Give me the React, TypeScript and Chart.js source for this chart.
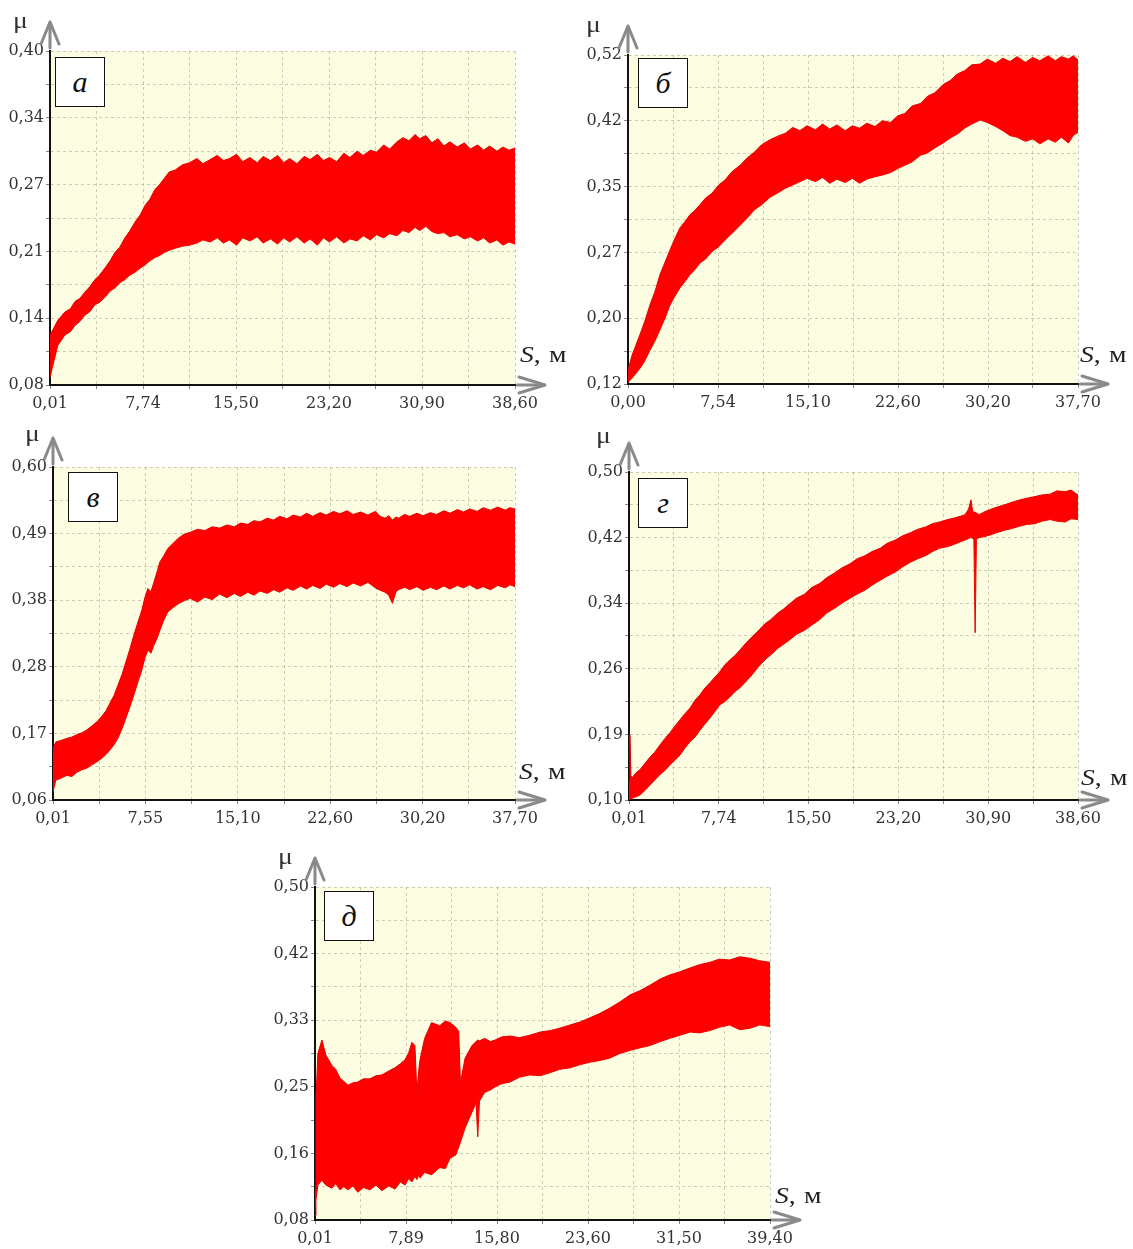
import React, { useEffect, useRef } from 'react';
import { Chart, registerables } from 'chart.js';

Chart.register(...registerables);

// ---------- Panel а ----------
const xLabelsA = ['0,01', '7,74', '15,50', '23,20', '30,90', '38,60'];
const yLabelsA = ['0,08', '0,14', '0,21', '0,27', '0,34', '0,40'];
const sA = [0.01, 0.25, 0.66, 1.25, 1.7, 2.08, 2.5, 2.9, 3.3, 3.74, 4.1, 4.57, 5.0, 5.4, 5.8, 6.23, 6.6, 7.06, 7.5, 7.9, 8.3, 8.7, 9.1, 9.5, 9.9, 10.4, 11.0, 11.6, 12.2, 12.7, 13.3, 13.9, 14.4, 14.9, 15.5, 16.0, 16.6, 17.2, 17.7, 18.3, 18.9, 19.4, 19.9, 20.5, 21.1, 21.6, 22.2, 22.7, 23.2, 23.8, 24.4, 24.9, 25.5, 26.0, 26.6, 27.1, 27.7, 28.2, 28.8, 29.3, 29.8, 30.3, 30.7, 31.2, 31.7, 32.2, 32.7, 33.2, 33.8, 34.4, 34.9, 35.5, 36.0, 36.5, 37.1, 37.6, 38.1, 38.6];
const upA = [0.128, 0.133, 0.142, 0.150, 0.153, 0.160, 0.163, 0.169, 0.174, 0.181, 0.185, 0.192, 0.199, 0.207, 0.212, 0.221, 0.227, 0.236, 0.243, 0.252, 0.258, 0.267, 0.272, 0.278, 0.284, 0.286, 0.291, 0.293, 0.297, 0.292, 0.296, 0.300, 0.295, 0.297, 0.301, 0.294, 0.298, 0.293, 0.299, 0.295, 0.300, 0.293, 0.297, 0.292, 0.299, 0.296, 0.301, 0.295, 0.298, 0.294, 0.302, 0.298, 0.304, 0.300, 0.305, 0.303, 0.310, 0.306, 0.313, 0.317, 0.314, 0.320, 0.316, 0.319, 0.312, 0.316, 0.309, 0.313, 0.308, 0.312, 0.306, 0.310, 0.305, 0.309, 0.304, 0.308, 0.305, 0.307];
const loA = [0.087, 0.099, 0.118, 0.128, 0.131, 0.137, 0.141, 0.147, 0.150, 0.157, 0.159, 0.164, 0.170, 0.173, 0.178, 0.181, 0.185, 0.188, 0.192, 0.195, 0.199, 0.202, 0.204, 0.207, 0.209, 0.211, 0.213, 0.214, 0.216, 0.219, 0.217, 0.221, 0.216, 0.219, 0.214, 0.221, 0.218, 0.222, 0.216, 0.220, 0.215, 0.221, 0.217, 0.222, 0.216, 0.220, 0.214, 0.221, 0.217, 0.222, 0.216, 0.220, 0.218, 0.223, 0.219, 0.224, 0.221, 0.225, 0.223, 0.228, 0.226, 0.231, 0.228, 0.232, 0.227, 0.225, 0.226, 0.222, 0.224, 0.220, 0.222, 0.218, 0.221, 0.216, 0.219, 0.214, 0.217, 0.215];

// ---------- Panel б ----------
const xLabelsB = ['0,00', '7,54', '15,10', '22,60', '30,20', '37,70'];
const yLabelsB = ['0,12', '0,20', '0,27', '0,35', '0,42', '0,52'];
const sB = [0, 0.34, 1.0, 1.4, 1.84, 2.25, 2.68, 3.1, 3.52, 3.9, 4.36, 4.8, 5.2, 5.6, 6.03, 6.5, 7.04, 7.6, 8.13, 8.7, 9.4, 10.0, 10.6, 11.2, 11.9, 12.5, 13.2, 13.8, 14.4, 15.0, 15.7, 16.3, 16.9, 17.5, 18.2, 18.8, 19.4, 20.0, 20.7, 21.3, 22.0, 22.6, 23.2, 23.8, 24.5, 25.1, 25.7, 26.4, 27.0, 27.6, 28.2, 28.8, 29.5, 30.1, 30.8, 31.4, 32.0, 32.6, 33.3, 33.9, 34.5, 35.2, 35.8, 36.3, 36.9, 37.3, 37.7];
const upB = [0.137, 0.155, 0.180, 0.196, 0.216, 0.232, 0.253, 0.268, 0.283, 0.296, 0.310, 0.318, 0.326, 0.331, 0.338, 0.346, 0.352, 0.362, 0.368, 0.378, 0.386, 0.395, 0.402, 0.411, 0.417, 0.421, 0.425, 0.432, 0.428, 0.434, 0.429, 0.436, 0.430, 0.435, 0.428, 0.434, 0.431, 0.437, 0.433, 0.440, 0.438, 0.446, 0.449, 0.458, 0.461, 0.470, 0.474, 0.484, 0.489, 0.497, 0.501, 0.508, 0.509, 0.515, 0.510, 0.516, 0.512, 0.518, 0.511, 0.517, 0.513, 0.519, 0.513, 0.518, 0.515, 0.519, 0.514];
const loB = [0.122, 0.127, 0.139, 0.148, 0.161, 0.172, 0.186, 0.200, 0.216, 0.226, 0.237, 0.245, 0.253, 0.259, 0.267, 0.272, 0.281, 0.287, 0.295, 0.303, 0.313, 0.322, 0.332, 0.338, 0.347, 0.352, 0.358, 0.362, 0.366, 0.370, 0.366, 0.371, 0.364, 0.369, 0.365, 0.370, 0.364, 0.369, 0.372, 0.374, 0.377, 0.382, 0.386, 0.390, 0.398, 0.401, 0.407, 0.413, 0.419, 0.424, 0.431, 0.436, 0.441, 0.438, 0.433, 0.428, 0.422, 0.420, 0.415, 0.418, 0.412, 0.418, 0.414, 0.420, 0.413, 0.422, 0.426];

// ---------- Panel в ----------
const xLabelsV = ['0,01', '7,55', '15,10', '22,60', '30,20', '37,70'];
const yLabelsV = ['0,06', '0,17', '0,28', '0,38', '0,49', '0,60'];
const sV = [0.01, 0.24, 0.73, 1.15, 1.55, 1.95, 2.37, 2.8, 3.18, 3.6, 4.0, 4.35, 4.65, 5.0, 5.3, 5.65, 5.96, 6.3, 6.6, 6.95, 7.26, 7.5, 7.75, 8.0, 8.24, 8.5, 8.73, 9.05, 9.38, 9.8, 10.2, 10.7, 11.2, 11.8, 12.4, 13.0, 13.6, 14.2, 14.8, 15.3, 15.9, 16.4, 16.9, 17.5, 18.0, 18.5, 19.1, 19.6, 20.2, 20.7, 21.2, 21.8, 22.3, 22.9, 23.4, 24.0, 24.5, 25.1, 25.7, 26.3, 26.7, 27.1, 27.4, 27.7, 28.0, 28.2, 28.7, 29.1, 29.7, 30.2, 30.8, 31.3, 31.9, 32.4, 33.0, 33.5, 34.0, 34.6, 35.1, 35.7, 36.3, 36.9, 37.3, 37.7];
const upV = [0.144, 0.154, 0.157, 0.160, 0.162, 0.166, 0.169, 0.174, 0.180, 0.187, 0.196, 0.205, 0.217, 0.230, 0.246, 0.264, 0.284, 0.306, 0.327, 0.349, 0.368, 0.388, 0.403, 0.398, 0.413, 0.430, 0.446, 0.456, 0.468, 0.476, 0.484, 0.491, 0.494, 0.499, 0.497, 0.503, 0.501, 0.506, 0.503, 0.509, 0.507, 0.513, 0.511, 0.517, 0.514, 0.520, 0.516, 0.522, 0.519, 0.525, 0.520, 0.526, 0.522, 0.528, 0.524, 0.529, 0.523, 0.527, 0.522, 0.528, 0.520, 0.517, 0.521, 0.514, 0.519, 0.517, 0.523, 0.520, 0.525, 0.521, 0.526, 0.523, 0.529, 0.525, 0.531, 0.527, 0.532, 0.528, 0.534, 0.530, 0.535, 0.530, 0.534, 0.532];
const loV = [0.073, 0.092, 0.096, 0.100, 0.098, 0.105, 0.109, 0.112, 0.117, 0.122, 0.128, 0.134, 0.141, 0.150, 0.160, 0.176, 0.193, 0.212, 0.230, 0.252, 0.271, 0.290, 0.303, 0.298, 0.311, 0.322, 0.335, 0.352, 0.365, 0.372, 0.378, 0.383, 0.387, 0.381, 0.389, 0.385, 0.394, 0.388, 0.395, 0.390, 0.397, 0.392, 0.399, 0.395, 0.401, 0.397, 0.404, 0.400, 0.407, 0.402, 0.408, 0.403, 0.410, 0.405, 0.411, 0.406, 0.412, 0.407, 0.413, 0.404, 0.400, 0.397, 0.392, 0.379, 0.398, 0.401, 0.405, 0.401, 0.406, 0.400, 0.405, 0.401, 0.407, 0.402, 0.408, 0.404, 0.409, 0.402, 0.406, 0.401, 0.408, 0.404, 0.409, 0.406];

// ---------- Panel г ----------
const xLabelsG = ['0,01', '7,74', '15,50', '23,20', '30,90', '38,60'];
const yLabelsG = ['0,10', '0,19', '0,26', '0,34', '0,42', '0,50'];
const sG = [0.01, 0.09, 0.17, 0.26, 0.6, 0.95, 1.4, 1.8, 2.2, 2.67, 3.1, 3.53, 4.0, 4.4, 4.8, 5.25, 5.7, 6.1, 6.5, 6.97, 7.4, 7.8, 8.25, 8.7, 9.1, 9.55, 10.1, 10.6, 11.1, 11.7, 12.2, 12.8, 13.3, 13.8, 14.4, 15.1, 15.7, 16.4, 17.0, 17.7, 18.3, 19.0, 19.6, 20.3, 20.9, 21.6, 22.2, 22.9, 23.5, 24.2, 24.8, 25.5, 26.1, 26.7, 27.4, 28.0, 28.5, 28.9, 29.2, 29.4, 29.55, 29.65, 29.76, 29.87, 30.1, 30.5, 31.0, 31.6, 32.3, 32.9, 33.6, 34.2, 34.9, 35.5, 36.2, 36.8, 37.5, 38.0, 38.6];
const upG = [0.124, 0.179, 0.130, 0.127, 0.133, 0.137, 0.145, 0.152, 0.158, 0.167, 0.175, 0.182, 0.191, 0.198, 0.205, 0.212, 0.222, 0.228, 0.236, 0.243, 0.250, 0.256, 0.265, 0.271, 0.276, 0.283, 0.292, 0.299, 0.306, 0.315, 0.320, 0.328, 0.333, 0.339, 0.346, 0.351, 0.359, 0.364, 0.371, 0.377, 0.383, 0.388, 0.394, 0.398, 0.403, 0.407, 0.413, 0.417, 0.422, 0.426, 0.430, 0.433, 0.437, 0.439, 0.442, 0.444, 0.446, 0.448, 0.455, 0.466, 0.452, 0.451, 0.451, 0.450, 0.448, 0.451, 0.454, 0.457, 0.460, 0.463, 0.466, 0.468, 0.470, 0.472, 0.473, 0.477, 0.476, 0.478, 0.472];
const loG = [0.100, 0.102, 0.101, 0.102, 0.104, 0.106, 0.112, 0.118, 0.124, 0.131, 0.136, 0.143, 0.149, 0.155, 0.163, 0.171, 0.177, 0.185, 0.192, 0.200, 0.208, 0.216, 0.220, 0.226, 0.232, 0.237, 0.245, 0.253, 0.262, 0.271, 0.277, 0.285, 0.290, 0.295, 0.302, 0.307, 0.313, 0.320, 0.328, 0.334, 0.340, 0.346, 0.351, 0.356, 0.362, 0.368, 0.373, 0.378, 0.384, 0.390, 0.394, 0.398, 0.403, 0.407, 0.409, 0.412, 0.415, 0.417, 0.419, 0.420, 0.419, 0.418, 0.304, 0.418, 0.420, 0.421, 0.423, 0.426, 0.429, 0.431, 0.434, 0.436, 0.437, 0.440, 0.442, 0.440, 0.439, 0.443, 0.442];

// ---------- Panel д ----------
const xLabelsD = ['0,01', '7,89', '15,80', '23,60', '31,50', '39,40'];
const yLabelsD = ['0,08', '0,16', '0,25', '0,33', '0,42', '0,50'];
const sD = [0.01, 0.09, 0.26, 0.61, 0.95, 1.47, 1.8, 2.17, 2.5, 2.86, 3.3, 3.72, 4.2, 4.76, 5.3, 5.8, 6.4, 6.93, 7.4, 7.8, 8.1, 8.4, 8.66, 8.83, 9.0, 9.1, 9.5, 10.1, 10.8, 11.3, 11.7, 12.2, 12.45, 12.6, 13.0, 13.6, 13.95, 14.1, 14.25, 14.7, 15.2, 15.6, 16.2, 16.9, 17.7, 18.6, 19.5, 20.4, 21.2, 22.1, 23.0, 23.8, 24.6, 25.5, 26.4, 27.3, 28.1, 29.0, 29.9, 30.7, 31.6, 32.5, 33.3, 34.2, 35.0, 35.9, 36.8, 37.7, 38.5, 39.4];
const upD = [0.118, 0.231, 0.290, 0.307, 0.288, 0.275, 0.270, 0.259, 0.255, 0.250, 0.253, 0.254, 0.258, 0.258, 0.262, 0.263, 0.268, 0.272, 0.277, 0.282, 0.290, 0.304, 0.300, 0.241, 0.270, 0.282, 0.309, 0.329, 0.325, 0.331, 0.329, 0.323, 0.318, 0.253, 0.284, 0.300, 0.305, 0.307, 0.306, 0.309, 0.305, 0.307, 0.311, 0.312, 0.310, 0.313, 0.317, 0.319, 0.322, 0.326, 0.330, 0.335, 0.340, 0.347, 0.355, 0.364, 0.369, 0.376, 0.384, 0.389, 0.393, 0.398, 0.402, 0.405, 0.409, 0.408, 0.412, 0.410, 0.407, 0.405];
const loD = [0.086, 0.105, 0.124, 0.130, 0.124, 0.120, 0.126, 0.118, 0.122, 0.118, 0.123, 0.115, 0.121, 0.118, 0.124, 0.117, 0.123, 0.119, 0.128, 0.124, 0.132, 0.128, 0.135, 0.131, 0.137, 0.133, 0.140, 0.137, 0.146, 0.145, 0.158, 0.162, 0.172, 0.178, 0.196, 0.216, 0.228, 0.185, 0.230, 0.241, 0.244, 0.248, 0.252, 0.254, 0.260, 0.263, 0.262, 0.266, 0.270, 0.272, 0.276, 0.279, 0.281, 0.284, 0.290, 0.294, 0.297, 0.300, 0.305, 0.309, 0.313, 0.317, 0.316, 0.319, 0.323, 0.326, 0.320, 0.322, 0.326, 0.324];

type Layout = {
  left: number; top: number; w: number; h: number;
  yW: number; xH: number; padTop: number; padRight: number;
  letter: [number, number]; mu: [number, number]; s: [number, number];
};

type PanelDef = {
  letter: string;
  xs: number[]; up: number[]; lo: number[];
  xLabels: string[]; yLabels: string[];
  lay: Layout;
};

const panels: PanelDef[] = [
  { letter: 'а', xs: sA, up: upA, lo: loA, xLabels: xLabelsA, yLabels: yLabelsA,
    lay: { left: 0, top: 0, w: 580, h: 420, yW: 50, xH: 35, padTop: 51, padRight: 65, letter: [55, 57], mu: [13, 9], s: [520, 343] } },
  { letter: 'б', xs: sB, up: upB, lo: loB, xLabels: xLabelsB, yLabels: yLabelsB,
    lay: { left: 575, top: 0, w: 558, h: 420, yW: 53, xH: 36, padTop: 55, padRight: 55, letter: [638, 58], mu: [586, 13], s: [1080, 343] } },
  { letter: 'в', xs: sV, up: upV, lo: loV, xLabels: xLabelsV, yLabels: yLabelsV,
    lay: { left: 0, top: 420, w: 580, h: 420, yW: 53, xH: 40, padTop: 47, padRight: 65, letter: [68, 472], mu: [25, 422], s: [519, 760] } },
  { letter: 'г', xs: sG, up: upG, lo: loG, xLabels: xLabelsG, yLabels: yLabelsG,
    lay: { left: 575, top: 420, w: 558, h: 420, yW: 54, xH: 40, padTop: 52, padRight: 55, letter: [638, 478], mu: [596, 424], s: [1081, 766] } },
  { letter: 'д', xs: sD, up: upD, lo: loD, xLabels: xLabelsD, yLabels: yLabelsD,
    lay: { left: 255, top: 840, w: 560, h: 409, yW: 60, xH: 29, padTop: 47, padRight: 45, letter: [324, 891], mu: [278, 845], s: [775, 1184] } },
];

const num = (s: string) => parseFloat(s.replace(',', '.'));

const decor = {
  id: 'decor',
  beforeDraw(chart: any) {
    const { ctx, chartArea: a } = chart;
    ctx.save();
    ctx.fillStyle = '#fdfde1';
    ctx.fillRect(a.left, a.top, a.right - a.left, a.bottom - a.top);
    ctx.restore();
  },
  afterDraw(chart: any) {
    const { ctx, chartArea: a } = chart;
    ctx.save();
    ctx.strokeStyle = '#8a8a8a';
    ctx.lineWidth = 3;
    ctx.lineCap = 'round';
    ctx.lineJoin = 'round';
    ctx.beginPath();
    ctx.moveTo(a.left, a.top - 3);
    ctx.lineTo(a.left, a.top - 28);
    ctx.stroke();
    ctx.beginPath();
    ctx.moveTo(a.left - 9, a.top - 7);
    ctx.lineTo(a.left, a.top - 29);
    ctx.lineTo(a.left + 9, a.top - 7);
    ctx.stroke();
    ctx.beginPath();
    ctx.moveTo(a.right + 2, a.bottom);
    ctx.lineTo(a.right + 29, a.bottom);
    ctx.stroke();
    ctx.beginPath();
    ctx.moveTo(a.right + 4, a.bottom - 8);
    ctx.lineTo(a.right + 30, a.bottom);
    ctx.lineTo(a.right + 4, a.bottom + 8);
    ctx.stroke();
    ctx.restore();
  },
};

const GRID = 'rgba(165,165,140,0.55)';
const TICK_FONT = 'DejaVu Serif';
const TEXT_FONT = 'Liberation Serif';

function Panel({ p }: { p: PanelDef }) {
  const ref = useRef<HTMLCanvasElement>(null);
  useEffect(() => {
    const xMin = num(p.xLabels[0]);
    const xMax = num(p.xLabels[p.xLabels.length - 1]);
    const yMin = num(p.yLabels[0]);
    const yMax = num(p.yLabels[p.yLabels.length - 1]);
    const n = Math.min(p.xs.length, p.up.length, p.lo.length);
    const upper = [] as { x: number; y: number }[];
    const lower = [] as { x: number; y: number }[];
    for (let i = 0; i < n; i++) {
      upper.push({ x: p.xs[i], y: p.up[i] });
      lower.push({ x: p.xs[i], y: p.lo[i] });
    }
    const L = p.lay;
    const chart = new Chart(ref.current as HTMLCanvasElement, {
      type: 'line',
      data: {
        datasets: [
          { data: upper, borderColor: '#e60000', backgroundColor: '#ff0000', borderWidth: 1, pointRadius: 0, fill: '+1', tension: 0 },
          { data: lower, borderColor: '#e60000', backgroundColor: '#ff0000', borderWidth: 1, pointRadius: 0, fill: false, tension: 0 },
        ],
      },
      options: {
        animation: false,
        responsive: false,
        maintainAspectRatio: false,
        devicePixelRatio: 1,
        layout: { padding: { top: L.padTop, right: L.padRight, left: 0, bottom: 0 } },
        plugins: { legend: { display: false }, tooltip: { enabled: false } },
        scales: {
          x: {
            type: 'linear',
            min: xMin,
            max: xMax,
            afterBuildTicks: (s: any) => {
              s.ticks = Array.from({ length: 11 }, (_, i) => ({ value: xMin + ((xMax - xMin) * i) / 10 }));
            },
            afterFit: (s: any) => { s.height = L.xH; },
            ticks: {
              autoSkip: false, maxRotation: 0, minRotation: 0, padding: 5, color: '#333',
              font: { family: TICK_FONT, size: 16 },
              callback: (_v: any, i: number) => (i % 2 === 0 ? p.xLabels[i / 2] : ''),
            },
            grid: { color: GRID, lineWidth: 1, tickLength: 4, tickColor: '#888' },
            border: { display: true, color: '#111', width: 2, dash: [3, 3] },
          },
          y: {
            type: 'linear',
            min: yMin,
            max: yMax,
            afterBuildTicks: (s: any) => {
              s.ticks = Array.from({ length: 11 }, (_, i) => ({ value: yMin + ((yMax - yMin) * i) / 10 }));
            },
            afterFit: (s: any) => { s.width = L.yW; },
            ticks: {
              autoSkip: false, padding: 2, color: '#333',
              font: { family: TICK_FONT, size: 16 },
              callback: (_v: any, i: number) => (i % 2 === 0 ? p.yLabels[i / 2] : ''),
            },
            grid: { color: GRID, lineWidth: 1, tickLength: 4, tickColor: '#888' },
            border: { display: true, color: '#111', width: 2, dash: [3, 3] },
          },
        },
      },
      plugins: [decor],
    } as any);
    return () => chart.destroy();
  }, []);

  const L = p.lay;
  return (
    <>
      <canvas ref={ref} width={L.w} height={L.h} style={{ position: 'absolute', left: L.left, top: L.top }} />
      <div
        style={{
          position: 'absolute', left: L.letter[0], top: L.letter[1], width: 50, height: 50,
          boxSizing: 'border-box', border: '1.5px solid #111', background: '#ffffff',
          display: 'flex', alignItems: 'center', justifyContent: 'center',
          fontFamily: TEXT_FONT, fontStyle: 'italic', fontSize: 30, color: '#111', lineHeight: 1,
        }}
      >
        {p.letter}
      </div>
      <div style={{ position: 'absolute', left: L.mu[0], top: L.mu[1], fontFamily: TEXT_FONT, fontSize: 23, lineHeight: 1, color: '#333', transform: 'scaleX(1.2)', transformOrigin: 'left top' }}>μ</div>
      <div style={{ position: 'absolute', left: L.s[0], top: L.s[1], fontFamily: TEXT_FONT, fontSize: 23, lineHeight: 1, color: '#222', whiteSpace: 'nowrap', transform: 'scaleX(1.2)', transformOrigin: 'left top' }}>
        <span style={{ fontStyle: 'italic' }}>S</span>,<span style={{ marginLeft: 7 }}>м</span>
      </div>
    </>
  );
}

export default function App() {
  return (
    <div style={{ position: 'absolute', left: 0, top: 0, width: 1133, height: 1249, background: '#ffffff', overflow: 'hidden' }}>
      {panels.map((p) => (
        <Panel key={p.letter} p={p} />
      ))}
    </div>
  );
}
